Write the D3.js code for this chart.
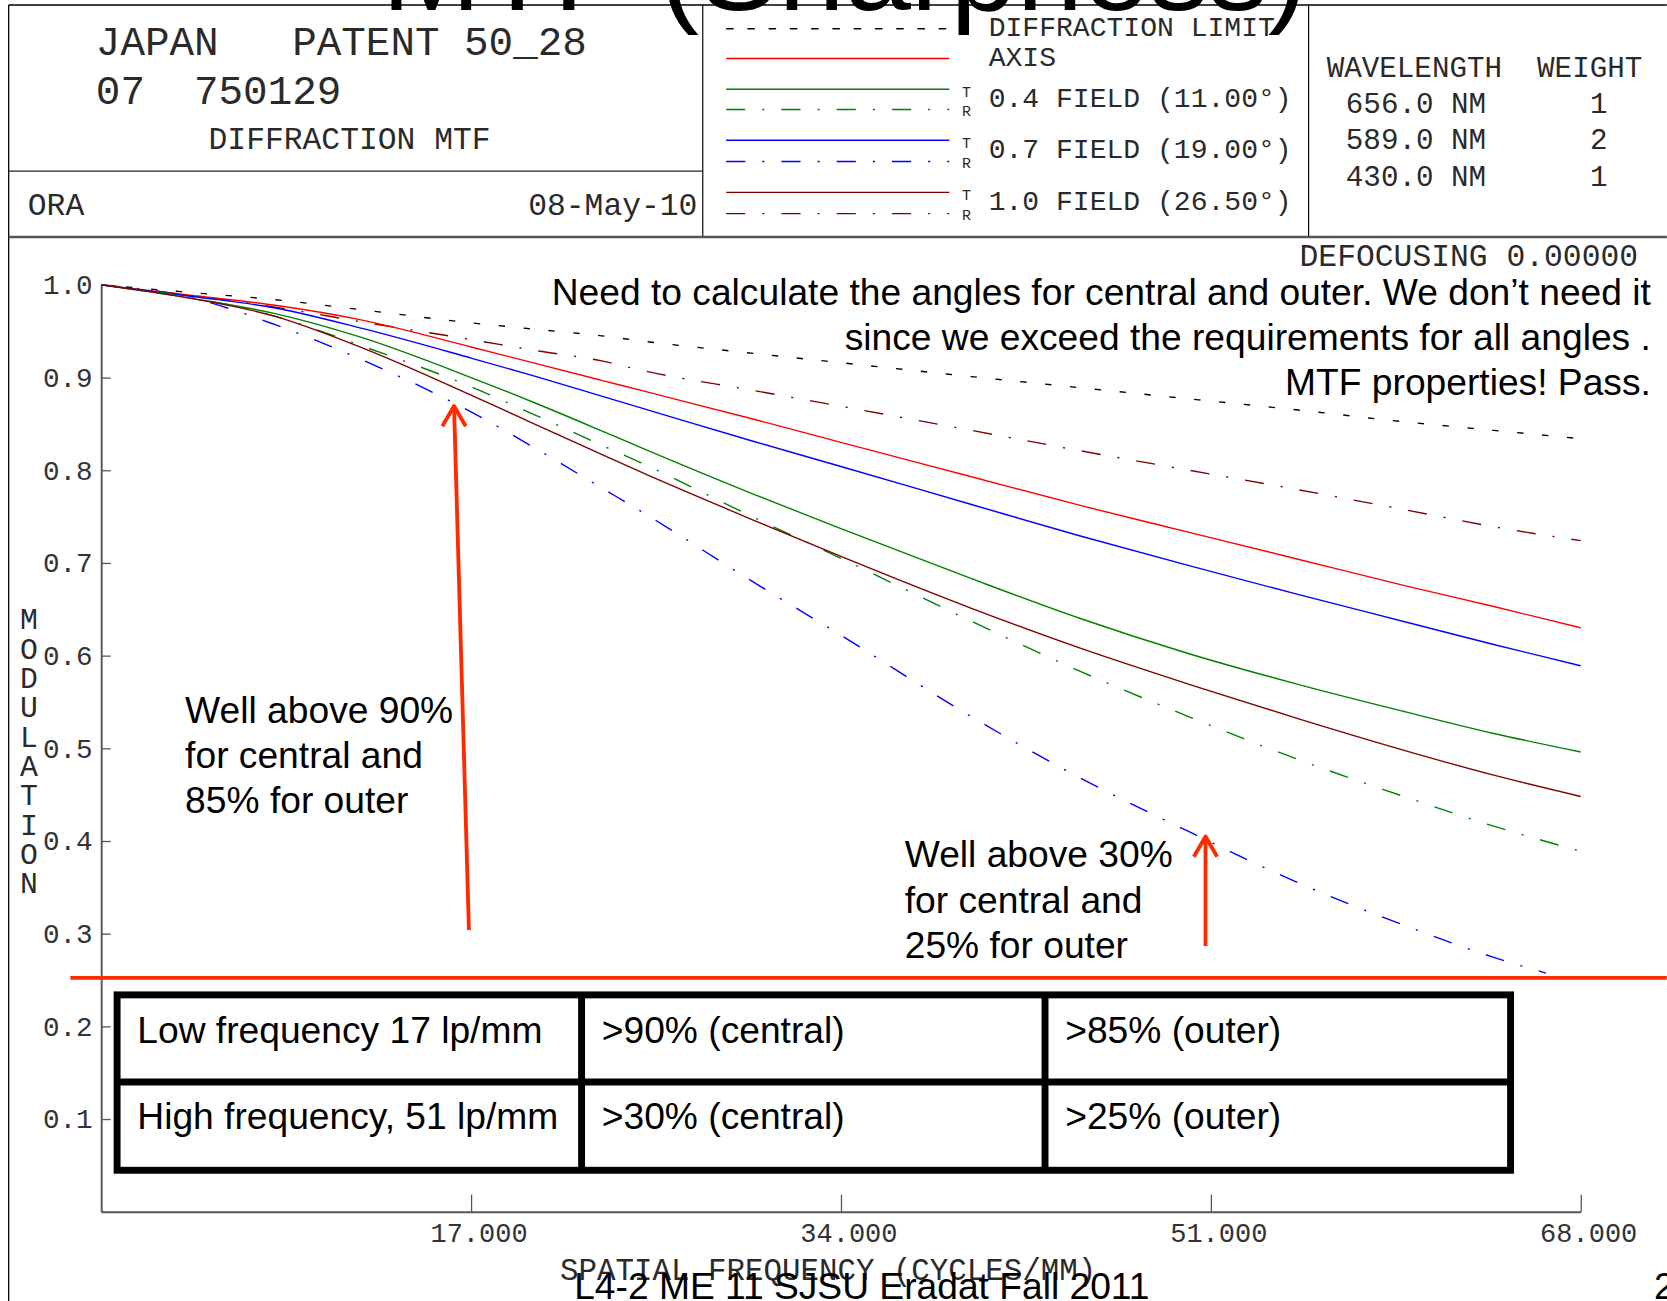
<!DOCTYPE html>
<html>
<head>
<meta charset="utf-8">
<script src="https://cdn.jsdelivr.net/npm/d3@7"></script>
<style>
  body { margin: 0; background: #fff; }
  svg { display: block; }
  .mono { font-family: "Liberation Mono", "Courier New", monospace; fill: #2a2a2a; white-space: pre; }
  .sans { font-family: "Liberation Sans", Arial, sans-serif; fill: #000; white-space: pre; }
</style>
</head>
<body>
<div id="chart"></div>
<script>
// spatial frequency samples, cycles/mm
var freqs = [0, 4, 8, 12, 17, 20, 23, 25, 30, 34, 40, 45, 50, 55, 60, 64, 68];
var freqsBlueR = [0, 4, 8, 12, 17, 20, 23, 25, 30, 34, 40, 45, 50, 55, 60, 64, 66.4];

// modulation
var diffLimit = [1.000, 0.992, 0.984, 0.973, 0.959, 0.952, 0.945, 0.939, 0.926, 0.916, 0.901, 0.889, 0.877, 0.865, 0.852, 0.843, 0.834];
var axisMtf   = [1.000, 0.989, 0.978, 0.962, 0.933, 0.915, 0.897, 0.885, 0.855, 0.830, 0.793, 0.762, 0.733, 0.704, 0.675, 0.653, 0.630];
var field04T  = [1.000, 0.986, 0.969, 0.943, 0.900, 0.872, 0.8425, 0.8225, 0.774, 0.737, 0.683, 0.640, 0.602, 0.569, 0.539, 0.516, 0.496];
var field04R  = [1.000, 0.987, 0.966, 0.934, 0.890, 0.859, 0.827, 0.806, 0.749, 0.705, 0.637, 0.583, 0.534, 0.488, 0.447, 0.416, 0.389];
var field07T  = [1.000, 0.988, 0.975, 0.953, 0.921, 0.901, 0.880, 0.866, 0.831, 0.804, 0.763, 0.729, 0.697, 0.666, 0.636, 0.612, 0.589];
var field07R  = [1.000, 0.987, 0.957, 0.919, 0.863, 0.823, 0.781, 0.753, 0.679, 0.622, 0.534, 0.468, 0.410, 0.355, 0.308, 0.2745, 0.2575];
var field10T  = [1.000, 0.986, 0.966, 0.932, 0.881, 0.849, 0.817, 0.796, 0.746, 0.707, 0.651, 0.608, 0.569, 0.532, 0.497, 0.471, 0.448];
var field10R  = [1.000, 0.989, 0.976, 0.960, 0.941, 0.929, 0.918, 0.907, 0.886, 0.869, 0.843, 0.821, 0.800, 0.779, 0.757, 0.739, 0.724];

var yTicks = [0.1, 0.2, 0.3, 0.4, 0.5, 0.6, 0.7, 0.8, 0.9, 1.0];
var xTicks = [17, 34, 51, 68];

var legendLabels = ["DIFFRACTION LIMIT", "AXIS", "0.4 FIELD (11.00\u00b0)", "0.7 FIELD (19.00\u00b0)", "1.0 FIELD (26.50\u00b0)"];
var wavelengths = ["656.0 NM", "589.0 NM", "430.0 NM"];
var weights = ["1", "2", "1"];

var noteTop = ["Need to calculate the angles for central and outer. We don\u2019t need it",
  "since we exceed the requirements for all angles .",
  "MTF properties! Pass."];
var noteLow = ["Well above 90%", "for central and", "85% for outer"];
var noteHigh = ["Well above 30%", "for central and", "25% for outer"];
var tableRows = [["Low frequency 17 lp/mm", ">90% (central)", ">85% (outer)"],
  ["High frequency, 51 lp/mm", ">30% (central)", ">25% (outer)"]];

var DASH = "6,17.5", DASHDOT = "18,16,2,16";
var RED = "#ff2a00";

var series = [
  {f: freqs, v: diffLimit, color: "#000", dash: DASH},
  {f: freqs, v: field10R, color: "#800000", dash: DASHDOT},
  {f: freqs, v: axisMtf, color: "#ff0000", dash: null},
  {f: freqs, v: field07T, color: "#0000ff", dash: null},
  {f: freqsBlueR, v: field07R, color: "#0000ff", dash: DASHDOT},
  {f: freqs, v: field04T, color: "#008000", dash: null},
  {f: freqs, v: field04R, color: "#008000", dash: DASHDOT},
  {f: freqs, v: field10T, color: "#800000", dash: null}
];

// page drawn in the units of the 1568x1224 view
var svg = d3.select("#chart").append("svg")
  .attr("width", 1667)
  .attr("height", 1301)
  .attr("viewBox", "0 0 1568 1224");

function hline(x1, x2, y, color, w) {
  svg.append("line").attr("x1", x1).attr("x2", x2).attr("y1", y).attr("y2", y)
    .attr("stroke", color).attr("stroke-width", w);
}
function vline(x, y1, y2, color, w) {
  svg.append("line").attr("x1", x).attr("x2", x).attr("y1", y1).attr("y2", y2)
    .attr("stroke", color).attr("stroke-width", w);
}
function mono(txt, x, y, size, anchor) {
  return svg.append("text").attr("class", "mono")
    .attr("x", x).attr("y", y)
    .attr("font-size", size)
    .attr("text-anchor", anchor || "start")
    .text(txt);
}
function sans(txt, x, y, anchor) {
  return svg.append("text").attr("class", "sans")
    .attr("x", x).attr("y", y)
    .attr("font-size", 35)
    .attr("text-anchor", anchor || "start")
    .text(txt);
}

// header frame
hline(8, 1568, 4.7, "#000", 1.2);
vline(8, 4.7, 1224, "#000", 1.2);
vline(661, 4.7, 223, "#000", 1.1);
vline(1231, 4.7, 223, "#000", 1.1);
hline(8, 661, 161, "#222", 1.2);
hline(8, 1568, 223, "#555", 2.2);

mono("JAPAN   PATENT 50_28", 90, 52, 38.5);
mono("07  750129", 90, 98, 38.5);
mono("DIFFRACTION MTF", 196, 140, 29.5);
mono("ORA", 26, 202, 29.5);
mono("08-May-10", 656, 202, 29.5, "end");

// legend
var legendY = [[27], [55], [84, 103], [132, 152], [181, 201]];
var legendText = [34, 62, 101, 149, 198];
var legendSeries = [[0], [2], [5, 6], [3, 4], [7, 1]];
legendLabels.forEach(function(lbl, i) {
  legendY[i].forEach(function(ly, j) {
    var s = series[legendSeries[i][j]];
    svg.append("line")
      .attr("x1", 683).attr("x2", 893).attr("y1", ly).attr("y2", ly)
      .attr("stroke", s.color).attr("stroke-width", 1.3)
      .attr("stroke-dasharray", s.dash ? (i == 0 ? "7,13" : s.dash) : null);
  });
  if (legendY[i].length == 2) {
    mono("T", 909, legendY[i][0] + 7, 14, "middle");
    mono("R", 909, legendY[i][1] + 6, 14, "middle");
  }
  mono(lbl, 930, legendText[i], 26.4);
});

mono("WAVELENGTH  WEIGHT", 1248, 72, 27.5);
wavelengths.forEach(function(w, i) {
  mono(w, 1266, 106 + i * 34.5, 27.5);
  mono(weights[i], 1504, 106 + i * 34.5, 27.5, "middle");
});

mono("DEFOCUSING 0.00000", 1541, 250, 29.5, "end");

// plot
var x = d3.scaleLinear().domain([0, 68]).range([95, 1487]);
var y = d3.scaleLinear().domain([0, 1]).range([1140, 268]);

var yAxis = svg.append("g")
  .attr("transform", "translate(" + x(0) + ",0)")
  .call(d3.axisLeft(y).tickValues(yTicks).tickFormat(d3.format(".1f"))
    .tickSize(-9).tickSizeOuter(0).tickPadding(8));
var xAxis = svg.append("g")
  .attr("transform", "translate(0," + y(0) + ")")
  .call(d3.axisBottom(x).tickValues(xTicks).tickFormat(d3.format(".3f"))
    .tickSize(-16).tickSizeOuter(0).tickPadding(10));

[yAxis, xAxis].forEach(function(g) {
  g.select(".domain").attr("stroke", "#555").attr("stroke-width", 1.8);
  g.selectAll(".tick line").attr("stroke", "#555").attr("stroke-width", 1.2);
  g.selectAll(".tick text")
    .attr("fill", "#333")
    .attr("font-family", "'Liberation Mono', 'Courier New', monospace");
});
yAxis.selectAll(".tick text").attr("font-size", 26);
xAxis.selectAll(".tick text").attr("font-size", 25.4).attr("dx", 7);

mono("SPATIAL FREQUENCY (CYCLES/MM)", 779, 1204, 29, "middle");
"MODULATION".split("").forEach(function(ch, i) {
  mono(ch, 27, 592 + i * 27.6, 28, "middle");
});

var line = d3.line()
  .x(function(d) { return x(d[0]); })
  .y(function(d) { return y(d[1]); })
  .curve(d3.curveMonotoneX);

svg.append("g").selectAll("path")
  .data(series)
  .enter()
  .append("path")
    .attr("d", function(s) { return line(d3.zip(s.f, s.v)); })
    .attr("fill", "none")
    .attr("stroke", function(s) { return s.color; })
    .attr("stroke-width", 1.3)
    .attr("stroke-dasharray", function(s) { return s.dash; });

// annotations
noteTop.forEach(function(t, i) { sans(t, 1553, 287 + i * 42.5, "end"); });
noteLow.forEach(function(t, i) { sans(t, 174, 680 + i * 42.5); });
noteHigh.forEach(function(t, i) { sans(t, 851, 816 + i * 42.5); });

function arrow(x1, y1, x2, y2) {
  svg.append("path")
    .attr("d", "M" + x1 + "," + y1 + "L" + x2 + "," + y2 +
      "M" + (x2 - 11) + "," + (y2 + 19) + "L" + x2 + "," + y2 + "L" + (x2 + 11) + "," + (y2 + 19))
    .attr("fill", "none").attr("stroke", RED).attr("stroke-width", 3.6)
    .attr("stroke-linejoin", "round");
}
arrow(441, 875, 427, 382);
arrow(1134, 890, 1134, 787);
hline(66, 1568, 920, RED, 3.6);

// requirements table
svg.append("rect")
  .attr("x", 110).attr("y", 936).attr("width", 1311).attr("height", 165)
  .attr("fill", "none").attr("stroke", "#000").attr("stroke-width", 6.5);
hline(110, 1421, 1018, "#000", 6.5);
vline(547, 936, 1101, "#000", 6.5);
vline(983, 936, 1101, "#000", 6.5);
var colX = [129, 566, 1002];
tableRows.forEach(function(row, r) {
  row.forEach(function(t, c) { sans(t, colX[c], 981 + r * 81); });
});

// slide title and footer on top
svg.append("text").attr("class", "sans")
  .attr("x", 359).attr("y", 9)
  .attr("font-size", 112)
  .text("MTF (Sharpness)");
sans("L4-2 ME 11 SJSU Eradat Fall 2011", 540, 1222);
sans("2", 1556, 1222);
</script>
</body>
</html>
